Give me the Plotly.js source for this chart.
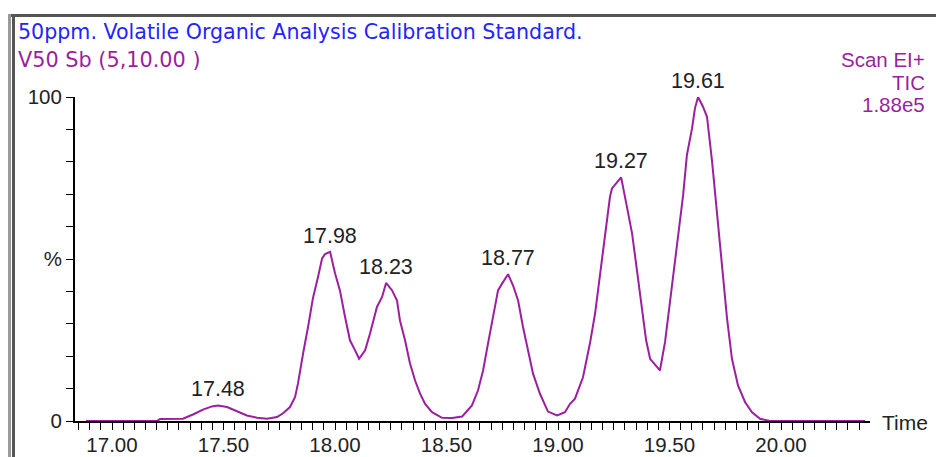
<!DOCTYPE html>
<html>
<head>
<meta charset="utf-8">
<script src="https://cdn.plot.ly/plotly-3.0.1.min.js"></script>
<style>
  html, body { margin: 0; padding: 0; background: #fff; }
  #wrap { position: relative; width: 936px; height: 457px; overflow: hidden; }
  #chart { position: absolute; left: 0; top: 0; width: 936px; height: 457px; }
  .bd { position: absolute; pointer-events: none; }
</style>
</head>
<body>
<div id="wrap">
  <div id="chart"></div>
  <div class="bd" style="left:8px; top:14px; width:928px; height:3px; background:#555;"></div>
  <div class="bd" style="left:8px; top:14px; width:3px; height:443px; background:#9a9a9a;"></div>
  <div class="bd" style="left:12px; top:14px; width:3px; height:443px; background:#555;"></div>
</div>
<script>
// Retention time (min) and relative intensity (%)
const timeMin = [16.883, 17.202, 17.215, 17.318, 17.363, 17.408, 17.448, 17.475, 17.516, 17.561,
  17.605, 17.650, 17.695, 17.740, 17.767, 17.798, 17.821, 17.834, 17.843, 17.857,
  17.879, 17.901, 17.924, 17.942, 17.955, 17.978, 18.000, 18.022, 18.045, 18.067,
  18.090, 18.108, 18.135, 18.157, 18.188, 18.211, 18.229, 18.256, 18.278, 18.291,
  18.314, 18.336, 18.359, 18.381, 18.404, 18.435, 18.480, 18.525, 18.570, 18.614,
  18.641, 18.664, 18.686, 18.709, 18.731, 18.749, 18.776, 18.798, 18.821, 18.843,
  18.865, 18.888, 18.919, 18.955, 18.996, 19.031, 19.054, 19.076, 19.112, 19.143,
  19.166, 19.188, 19.211, 19.233, 19.242, 19.283, 19.309, 19.332, 19.354, 19.377,
  19.395, 19.413, 19.457, 19.480, 19.502, 19.525, 19.547, 19.561, 19.578, 19.601,
  19.614, 19.628, 19.650, 19.668, 19.691, 19.713, 19.735, 19.758, 19.780, 19.807,
  19.839, 19.870, 19.906, 19.951, 20.377];
const intensity = [0, 0, 0.6, 0.7, 2.0, 3.5, 4.5, 4.8, 4.3, 3.0,
  1.7, 1.0, 0.7, 1.2, 2.4, 4.3, 7.4, 11.6, 15.6, 20.9,
  29.0, 37.9, 44.5, 50.2, 51.5, 52.2, 45.6, 40.3, 32.1, 24.9,
  21.8, 19.2, 21.8, 27.0, 35.2, 38.3, 42.6, 40.3, 37.2, 31.1,
  24.9, 17.8, 12.5, 8.5, 5.3, 2.7, 1.0, 0.9, 1.4, 4.8,
  9.4, 15.6, 23.9, 32.1, 40.3, 42.4, 45.3, 41.9, 37.2, 29.0,
  21.8, 14.6, 8.4, 2.9, 1.7, 2.7, 5.3, 6.9, 13.5, 23.9,
  33.1, 45.5, 57.9, 69.2, 71.8, 75.2, 66.1, 57.9, 46.5, 34.2,
  24.9, 19.2, 15.6, 24.4, 36.7, 48.1, 60.4, 69.7, 82.1, 90.3,
  96.5, 100, 97.0, 93.9, 80.0, 64.5, 49.1, 31.6, 19.2, 11.0,
  5.8, 2.7, 0.7, 0, 0];
const peakLabels = ['17.48', '17.98', '18.23', '18.77', '19.27', '19.61'];
const xTickVals = [17.0, 17.5, 18.0, 18.5, 19.0, 19.5, 20.0];
const xTickText = ['17.00', '17.50', '18.00', '18.50', '19.00', '19.50', '20.00'];
const yTickVals = [0, 10, 20, 30, 40, 50, 60, 70, 80, 90, 100];
const yTickText = ['0', '', '', '', '', '%', '', '', '', '', '100'];
const titleLine1 = '50ppm. Volatile Organic Analysis Calibration Standard.';
const titleLine2 = 'V50 Sb (5,10.00 )';
const infoLines = ['Scan EI+', 'TIC', '1.88e5'];
const xAxisName = 'Time';

// layout geometry (pixels)
const W = 936, H = 457, L = 75, R = 66, T = 97, B = 36;
const PW = W - L - R, PH = H - T - B;
const px = x => (x - L) / PW;
const py = y => (H - B - y) / PH;

const NUM = 'Liberation Sans, Arial, sans-serif';
const TXT = 'DejaVu Sans, Verdana, sans-serif';
const purple = '#9b1f9e';

const annotations = [];
peakLabels.forEach(lbl => {
  const c = parseFloat(lbl);
  let best = -1;
  for (let i = 0; i < timeMin.length; i++) {
    if (Math.abs(timeMin[i] - c) <= 0.06 && (best < 0 || intensity[i] > intensity[best])) best = i;
  }
  annotations.push({
    x: timeMin[best], y: intensity[best], xref: 'x', yref: 'y',
    text: lbl, showarrow: false, xanchor: 'center', yanchor: 'bottom', yshift: 2,
    font: { family: NUM, size: 21.5, color: '#222' }
  });
});
annotations.push({ x: px(16), y: py(32), xref: 'paper', yref: 'paper', xanchor: 'left', yanchor: 'middle',
  text: titleLine1, showarrow: false, font: { family: TXT, size: 20.6, color: '#2424ff' } });
annotations.push({ x: px(16), y: py(60), xref: 'paper', yref: 'paper', xanchor: 'left', yanchor: 'middle',
  text: titleLine2, showarrow: false, font: { family: TXT, size: 20.8, color: purple } });
infoLines.forEach((t, i) => {
  annotations.push({ x: px(927), y: py(60 + i * 22), xref: 'paper', yref: 'paper', xanchor: 'right', yanchor: 'middle',
    text: t, showarrow: false, font: { family: NUM, size: 20.5, color: purple } });
});
annotations.push({ x: px(880), y: py(422), xref: 'paper', yref: 'paper', xanchor: 'left', yanchor: 'middle',
  text: xAxisName, showarrow: false, font: { family: NUM, size: 21, color: '#222' } });

const trace = {
  x: timeMin, y: intensity, type: 'scatter', mode: 'lines',
  line: { color: purple, width: 2 }, cliponaxis: false, hoverinfo: 'skip'
};

const layout = {
  width: W, height: H,
  margin: { l: L, r: R, t: T, b: B, pad: 0 },
  paper_bgcolor: 'rgba(0,0,0,0)', plot_bgcolor: 'rgba(0,0,0,0)',
  showlegend: false,
  xaxis: {
    range: [16.834, 20.399], showgrid: false, zeroline: false,
    showline: true, linecolor: '#000', linewidth: 2, layer: 'below traces',
    ticks: 'outside', ticklen: 7, tickwidth: 1, tickcolor: '#000',
    tickmode: 'array', tickvals: xTickVals, ticktext: xTickText,
    ticklabelstandoff: -3,
    tickfont: { family: NUM, size: 20.5, color: '#222' },
    minor: { dtick: 0.05, tick0: 17, ticks: 'outside', ticklen: 7, tickwidth: 1, tickcolor: '#000', showgrid: false }
  },
  yaxis: {
    range: [0, 100], showgrid: false, zeroline: false,
    showline: true, linecolor: '#000', linewidth: 2,
    ticks: 'outside', ticklen: 7, tickwidth: 1, tickcolor: '#000',
    tickmode: 'array', tickvals: yTickVals, ticktext: yTickText,
    tickfont: { family: NUM, size: 20.5, color: '#222' }
  },
  annotations: annotations
};

Plotly.newPlot('chart', [trace], layout, { staticPlot: true, displayModeBar: false });
</script>
</body>
</html>
